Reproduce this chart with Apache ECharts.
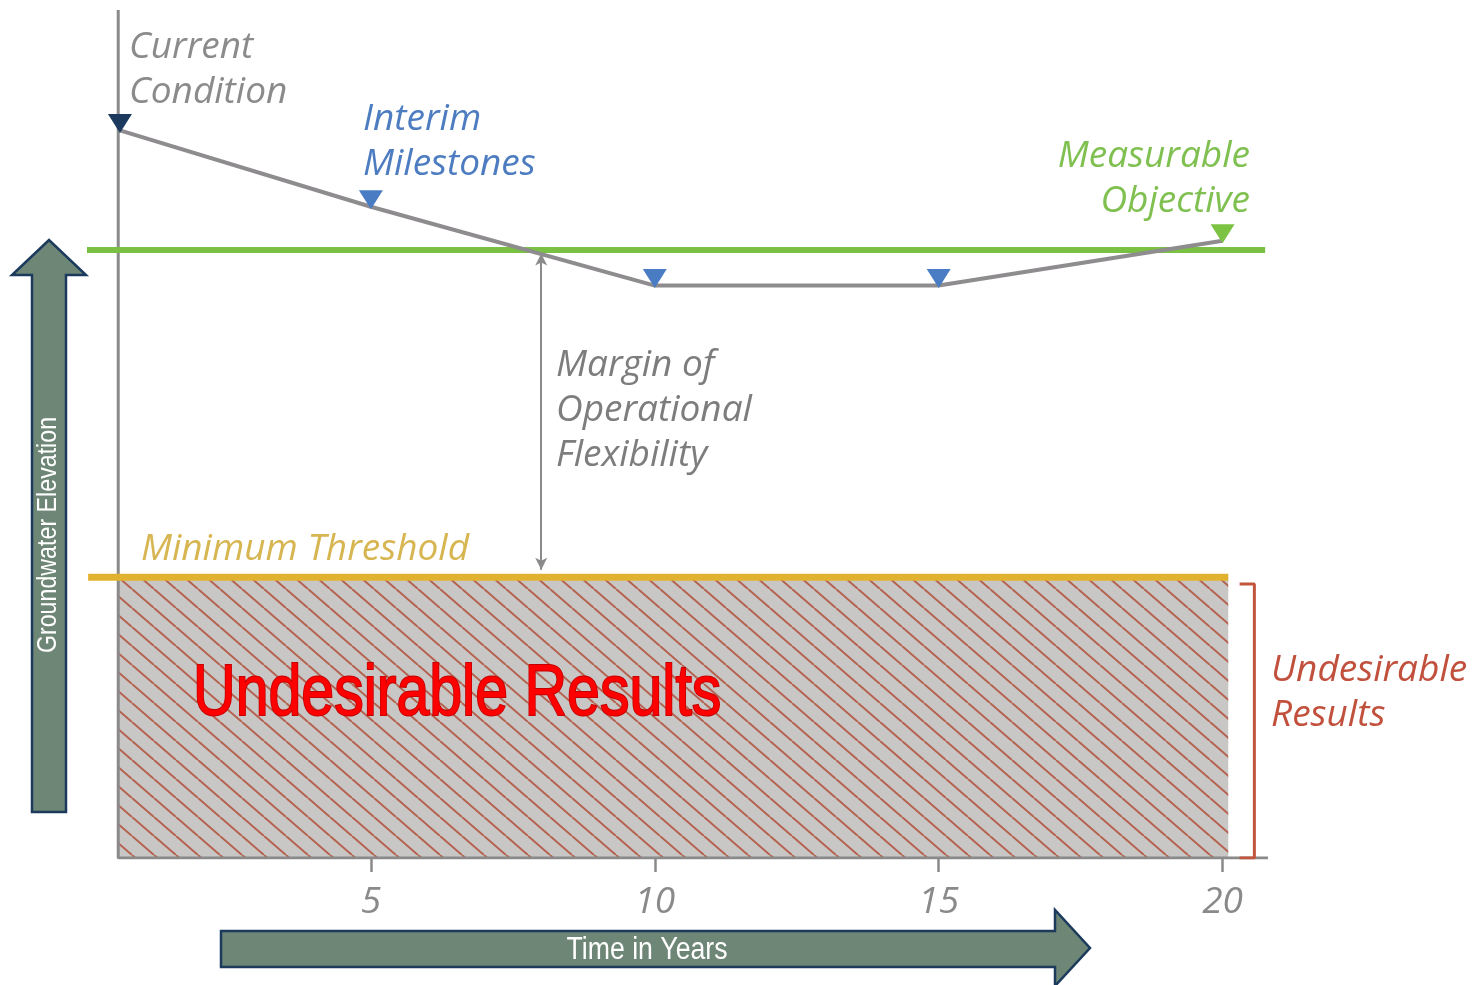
<!DOCTYPE html>
<html>
<head>
<meta charset="utf-8">
<script src="https://cdn.jsdelivr.net/npm/echarts@6/dist/echarts.min.js"></script>
<style>
  html, body { margin: 0; padding: 0; background: #ffffff; }
  #chart { width: 1478px; height: 985px; }
</style>
</head>
<body>
<div id="chart"></div>
<script>
// Groundwater elevation path over the planning horizon (elevation in relative units)
const years = [0.58, 5, 10, 15, 20];
const elevation = [85.8, 76.8, 67.5, 67.5, 72.8];
const pointRoles = ['current', 'interim', 'interim', 'interim', 'objective'];

// Sustainability thresholds
const measurableObjective = 71.7;
const minimumThreshold = 33.1;

// Axis extents and ticks
const yearTicks = [5, 10, 15, 20];
const axisOrigin = 0.55;
const xMax = 20.8;
const yMax = 100;
const horizonEnd = 20.1;
const objectiveLineEnd = 20.75;
const marginYear = 8;
const bracketX = [20.3, 20.56];

const roleColor = { current: '#1b3a5e', interim: '#4a7cc3', objective: '#7cc243' };

// Diagonal hatch tile for the undesirable-results zone
function hatchTile() {
  const w = 22, h = 19;
  const c = document.createElement('canvas');
  c.width = w; c.height = h;
  const g = c.getContext('2d');
  g.fillStyle = '#c9c6c6';
  g.fillRect(0, 0, w, h);
  g.strokeStyle = '#b5624f';
  g.lineWidth = 2;
  for (let k = -1; k <= 1; k++) {
    g.beginPath();
    g.moveTo(k * w, 0);
    g.lineTo(k * w + w, h);
    g.stroke();
  }
  return c;
}

const labelFont = '"Open Sans", "DejaVu Sans", sans-serif';
const narrowFont = '"Liberation Sans", Arial, sans-serif';

function italicText(text, x, y, color, align) {
  return {
    type: 'text', x: x, y: y, silent: true,
    style: {
      text: text, fill: color, align: align || 'left', verticalAlign: 'top',
      font: 'italic 37px ' + labelFont, lineHeight: 45
    }
  };
}

const chart = echarts.init(document.getElementById('chart'), null, { renderer: 'canvas' });

chart.setOption({
  animation: false,
  backgroundColor: '#ffffff',
  grid: { left: 87, right: 210, top: 10, bottom: 127, containLabel: false },
  xAxis: {
    type: 'value', min: 0, max: xMax, interval: 5,
    axisLine: { show: false },
    splitLine: { show: false },
    axisTick: { show: true, customValues: yearTicks, length: 14, lineStyle: { color: '#8a8a8a', width: 2.5 } },
    axisLabel: {
      customValues: yearTicks, margin: 26, color: '#8a8a8a',
      fontSize: 37, fontStyle: 'italic', fontFamily: labelFont
    }
  },
  yAxis: { type: 'value', min: 0, max: yMax, show: false },
  series: [
    {
      name: 'Undesirable zone', type: 'line', z: 1, data: [], silent: true,
      markArea: {
        silent: true,
        itemStyle: { color: { image: hatchTile(), repeat: 'repeat' } },
        data: [[{ coord: [axisOrigin, 0] }, { coord: [horizonEnd, minimumThreshold] }]]
      }
    },
    {
      name: 'Axes', type: 'line', z: 3, silent: true, symbol: 'none',
      lineStyle: { color: '#8a8a8a', width: 3 },
      data: [[axisOrigin, yMax], [axisOrigin, 0], [xMax, 0]]
    },
    {
      name: 'Minimum Threshold', type: 'line', z: 4, silent: true, symbol: 'none',
      lineStyle: { color: '#e1b22f', width: 7 },
      data: [[0.02, minimumThreshold], [horizonEnd, minimumThreshold]]
    },
    {
      name: 'Measurable Objective', type: 'line', z: 4, silent: true, symbol: 'none',
      lineStyle: { color: '#7ac143', width: 6 },
      data: [[0, measurableObjective], [objectiveLineEnd, measurableObjective]],
      markLine: {
        silent: true, symbol: ['arrow', 'arrow'], symbolSize: [9, 12],
        lineStyle: { color: '#8a8a8a', width: 2, type: 'solid' },
        label: { show: false },
        data: [[{ coord: [marginYear, measurableObjective - 0.4] }, { coord: [marginYear, minimumThreshold + 0.9] }]]
      }
    },
    {
      name: 'Undesirable bracket', type: 'line', z: 4, silent: true, symbol: 'none',
      lineStyle: { color: '#c3553d', width: 3 },
      data: [[bracketX[0], minimumThreshold - 0.8], [bracketX[1], minimumThreshold - 0.8], [bracketX[1], 0], [bracketX[0], 0]]
    },
    {
      name: 'Groundwater level', type: 'line', z: 5, silent: true,
      symbol: 'triangle', symbolRotate: 180, symbolSize: [24, 19], symbolOffset: [0, -7],
      lineStyle: { color: '#8e8c8e', width: 4 },
      data: years.map((x, i) => ({ value: [x, elevation[i]], itemStyle: { color: roleColor[pointRoles[i]] } }))
    }
  ],
  graphic: [
    // vertical axis arrow
    {
      type: 'polygon', silent: true, z: 10,
      shape: { points: [[32, 812], [66, 812], [66, 275], [86, 275], [49, 240], [12, 275], [32, 275]] },
      style: { fill: '#6e8676', stroke: '#1c3a5c', lineWidth: 2.5 }
    },
    {
      type: 'text', silent: true, z: 11, x: 49, y: 535, rotation: Math.PI / 2, scaleX: 0.86,
      style: { text: 'Groundwater Elevation', fill: '#ffffff', font: '27px ' + narrowFont, align: 'center', verticalAlign: 'middle' }
    },
    // horizontal axis arrow
    {
      type: 'polygon', silent: true, z: 10,
      shape: { points: [[221, 931], [1055, 931], [1055, 910], [1090, 948], [1055, 986], [1055, 967], [221, 967]] },
      style: { fill: '#6e8676', stroke: '#1c3a5c', lineWidth: 2.5 }
    },
    {
      type: 'text', silent: true, z: 11, x: 647, y: 950, scaleX: 0.86,
      style: { text: 'Time in Years', fill: '#ffffff', font: '31px ' + narrowFont, align: 'center', verticalAlign: 'middle' }
    },
    italicText('Current\nCondition', 129, 25, '#8b8b8b'),
    italicText('Interim\nMilestones', 363, 97, '#4d7cc0'),
    italicText('Measurable\nObjective', 1250, 134, '#7fc050', 'right'),
    italicText('Margin of\nOperational\nFlexibility', 556, 343, '#7d7d7d'),
    italicText('Minimum Threshold', 141, 527, '#d7b550'),
    italicText('Undesirable\nResults', 1271, 648, '#c1503d'),
    {
      type: 'text', silent: true, z: 11, x: 193, y: 695, scaleX: 0.82,
      style: {
        text: 'Undesirable Results', fill: '#ff0000', stroke: '#c40000', lineWidth: 2,
        font: '72px ' + narrowFont, align: 'left', verticalAlign: 'middle'
      }
    }
  ]
});
</script>
</body>
</html>
